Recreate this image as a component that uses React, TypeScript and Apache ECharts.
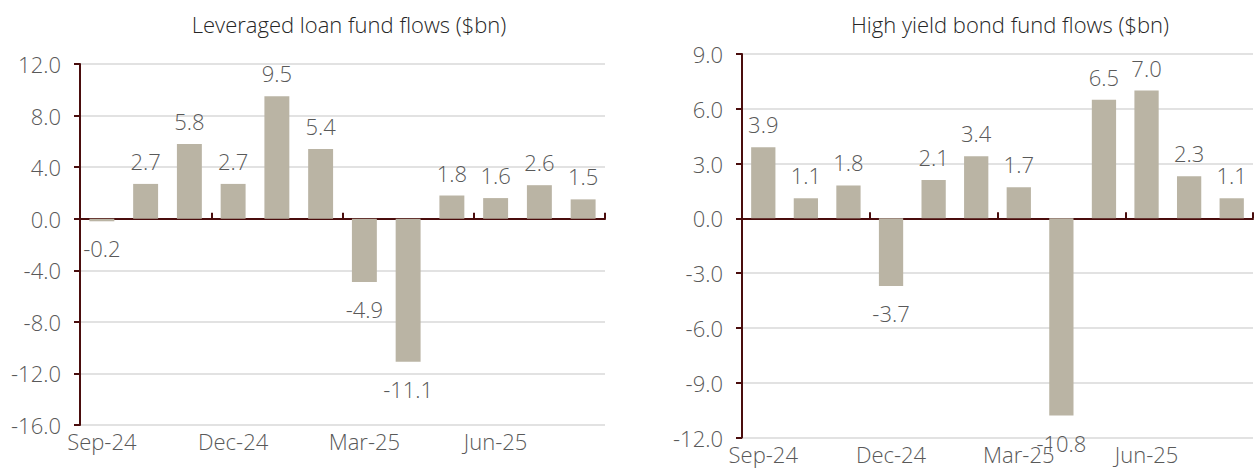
import React, { useEffect, useRef } from "react";
import * as echarts from "echarts";

const categories = ["Sep-24", "Oct-24", "Nov-24", "Dec-24", "Jan-25", "Feb-25", "Mar-25", "Apr-25", "May-25", "Jun-25", "Jul-25", "Aug-25"];
const loanFlows = [-0.2, 2.7, 5.8, 2.7, 9.5, 5.4, -4.9, -11.1, 1.8, 1.6, 2.6, 1.5];
const hyFlows = [3.9, 1.1, 1.8, -3.7, 2.1, 3.4, 1.7, -10.8, 6.5, 7.0, 2.3, 1.1];
const loanTitle = "Leveraged loan fund flows ($bn)";
const hyTitle = "High yield bond fund flows ($bn)";

const FONT = "Open Sans";
const AXIS = "#4a0d0d";
const BAR = "#bab4a4";
const TXT = "#595959";
const FS = 22;
const FW = 300;

function zeroAxis(gridIndex: number) {
  return {
    type: "category",
    gridIndex,
    data: categories,
    position: "bottom",
    axisLine: { show: true, onZero: true, lineStyle: { color: AXIS, width: 2 } },
    axisTick: { show: true, inside: true, length: 6, interval: 2, lineStyle: { color: AXIS, width: 2 } },
    axisLabel: { show: false },
    splitLine: { show: false },
  };
}
function labelAxis(gridIndex: number) {
  return {
    type: "category",
    gridIndex,
    data: categories,
    position: "bottom",
    axisLine: { show: false, onZero: false },
    axisTick: { show: false },
    axisLabel: { show: true, interval: 2, color: TXT, fontFamily: FONT, fontWeight: FW, fontSize: FS, margin: 5 },
    splitLine: { show: false },
  };
}
function valueAxis(gridIndex: number, min: number, max: number, interval: number) {
  return {
    type: "value",
    gridIndex,
    min,
    max,
    interval,
    axisLine: { show: true, lineStyle: { color: AXIS, width: 2 } },
    axisTick: { show: true, length: 6, lineStyle: { color: AXIS, width: 2 } },
    axisLabel: { color: TXT, fontFamily: FONT, fontWeight: FW, fontSize: FS, margin: 19, formatter: (v: number) => v.toFixed(1) },
    splitLine: { show: true, lineStyle: { color: "#d9d9d9", width: 1.5 } },
  };
}
function barSeries(data: number[], xAxisIndex: number, yAxisIndex: number) {
  return {
    type: "bar",
    xAxisIndex,
    yAxisIndex,
    barCategoryGap: "43%",
    data: data.map((v) => ({
      value: v,
      label: {
        show: true,
        position: v < 0 ? "bottom" : "top",
        distance: v < 0 ? 16 : 12,
        color: TXT,
        fontFamily: FONT,
        fontWeight: FW,
        fontSize: FS,
        formatter: () => v.toFixed(1),
      },
    })),
    itemStyle: { color: BAR },
  };
}

export default function App() {
  const ref = useRef<HTMLDivElement>(null);
  useEffect(() => {
    if (!ref.current) return;
    const chart = echarts.init(ref.current, undefined, { renderer: "svg" });
    chart.setOption({
      animation: false,
      backgroundColor: "#ffffff",
      title: [
        { text: loanTitle, left: 344, top: 8, textAlign: "center", textStyle: { fontFamily: FONT, fontSize: FS, fontWeight: FW, color: "#262626" } },
        { text: hyTitle, left: 1005, top: 8, textAlign: "center", textStyle: { fontFamily: FONT, fontSize: FS, fontWeight: FW, color: "#262626" } },
      ],
      grid: [
        { left: 80, top: 64, width: 525, height: 361, containLabel: false },
        { left: 742, top: 54, width: 511, height: 383.5, containLabel: false },
      ],
      xAxis: [zeroAxis(0), labelAxis(0), zeroAxis(1), labelAxis(1)],
      yAxis: [valueAxis(0, -16, 12, 4), valueAxis(1, -12, 9, 3)],
      series: [barSeries(loanFlows, 0, 0), barSeries(hyFlows, 2, 1)],
    });
    return () => chart.dispose();
  }, []);
  return <div ref={ref} style={{ position: "fixed", left: 0, top: 0, width: 1258, height: 472 }} />;
}
